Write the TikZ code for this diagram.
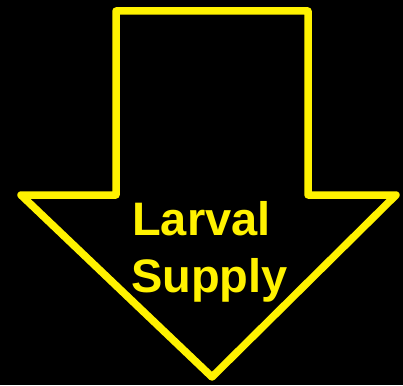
\documentclass[tikz,border=0pt]{standalone}
\usepackage{fontspec}
\setmainfont{Liberation Sans}
\begin{document}
\begin{tikzpicture}[x=1pt,y=-1pt,
  outline/.style={draw=yellow, line width=7.5pt, line join=round},
  lbl/.style={text=yellow, font=\fontsize{47}{56}\selectfont\bfseries, inner sep=0pt, anchor=base west}]
\fill[black] (0,0) rectangle (403,385);
\useasboundingbox (0,0) rectangle (403,385);
\draw[outline] (116,11) -- (308,11) -- (308,195) -- (396,195) -- (212,377) -- (21,195) -- (116,195) -- cycle;
\node[lbl] (l1) at (132,235) {Larval};
\node[lbl] (l2) at (131,292) {Supply};
\end{tikzpicture}
\end{document}
